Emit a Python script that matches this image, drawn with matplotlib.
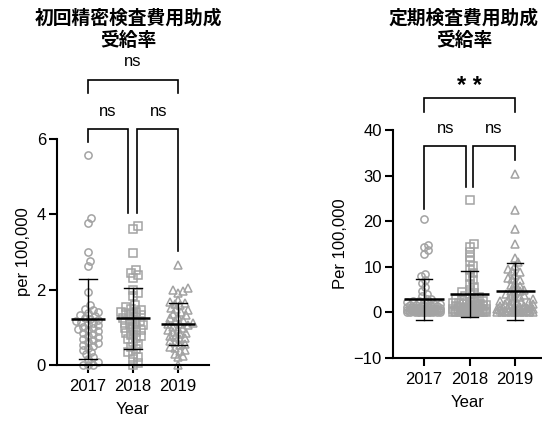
import numpy as np
import matplotlib
matplotlib.use("Agg")
import matplotlib.pyplot as plt

plt.rcParams['font.family'] = ['Liberation Sans', 'DejaVu Sans']

# ---- data -------------------------------------------------------------
years = ["2017", "2018", "2019"]

# 初回精密検査費用助成 受給率 (per 100,000)
initial_2017 = [5.57, 3.90, 3.78, 3.00, 2.75, 2.62, 1.94, 1.58, 1.50, 1.47, 1.42, 1.38,
                1.33, 1.30, 1.26, 1.22, 1.18, 1.15, 1.12, 1.10, 1.06, 1.02, 0.98, 0.95,
                0.90, 0.86, 0.82, 0.78, 0.74, 0.70, 0.66, 0.62, 0.58, 0.54, 0.50, 0.46,
                0.40, 0.35, 0.28, 0.22, 0.15, 0.08, 0.00, 0.00, 0.00, 1.20, 0.93]
initial_2018 = [3.68, 3.62, 2.97, 2.52, 2.45, 2.38, 2.32, 1.98, 1.90, 1.82, 1.60, 1.55,
                1.50, 1.46, 1.42, 1.38, 1.35, 1.32, 1.28, 1.25, 1.22, 1.18, 1.15, 1.12,
                1.08, 1.05, 1.02, 0.98, 0.95, 0.92, 0.88, 0.85, 0.80, 0.76, 0.72, 0.68,
                0.62, 0.55, 0.48, 0.42, 0.35, 0.30, 0.22, 0.15, 0.05, 0.00, 1.40]
initial_2019 = [2.65, 2.05, 2.00, 1.96, 1.92, 1.72, 1.68, 1.65, 1.62, 1.58, 1.52, 1.48,
                1.45, 1.40, 1.36, 1.32, 1.28, 1.25, 1.20, 1.16, 1.12, 1.08, 1.05, 1.02,
                0.98, 0.95, 0.92, 0.88, 0.85, 0.82, 0.78, 0.75, 0.72, 0.68, 0.64, 0.60,
                0.55, 0.52, 0.48, 0.44, 0.40, 0.36, 0.30, 0.25, 0.20, 0.00, 1.10]
initial_mean = [1.22, 1.24, 1.09]
initial_sd = [1.07, 0.81, 0.56]

# 定期検査費用助成 受給率 (per 100,000)
regular_2017 = [20.4, 14.8, 14.4, 13.6, 12.9, 8.5, 7.9, 7.2, 6.4, 5.6, 4.8, 4.1,
                3.5, 3.0, 2.6, 2.3, 2.0, 1.8, 1.6, 1.5, 1.4, 1.3, 1.2, 1.1,
                1.0, 0.9, 0.85, 0.8, 0.7, 0.65, 0.6, 0.55, 0.5, 0.45, 0.4, 0.35,
                0.3, 0.25, 0.2, 0.2, 0.15, 0.1, 0.1, 0.05, 0.0, 0.0, 0.0,
                2.9, 2.5, 2.2, 1.9, 1.7, 1.45, 1.25, 1.05, 0.95, 0.75, 0.6, 0.5,
                0.42, 0.33, 0.28, 0.22, 0.18, 0.12, 0.08, 0.05, 0.03, 0.0]
regular_2018 = [24.6, 15.0, 14.3, 13.2, 12.2, 11.2, 10.2, 9.4, 8.6, 7.8, 7.0, 6.2,
                5.6, 5.0, 4.5, 4.0, 3.6, 3.2, 2.9, 2.6, 2.3, 2.1, 1.9, 1.7,
                1.5, 1.35, 1.2, 1.05, 0.9, 0.8, 0.7, 0.6, 0.5, 0.45, 0.4, 0.35,
                0.3, 0.25, 0.2, 0.15, 0.1, 0.1, 0.05, 0.0, 0.0, 3.0, 2.0,
                4.2, 3.4, 2.8, 2.4, 2.2, 1.8, 1.6, 1.4, 1.1, 0.95, 0.75, 0.65,
                0.55, 0.42, 0.33, 0.22, 0.18, 0.12, 0.08, 0.03, 0.0]
regular_2019 = [30.3, 22.5, 18.3, 15.0, 12.0, 11.0, 10.2, 9.5, 8.8, 8.2, 7.6, 7.0,
                6.5, 6.0, 5.5, 5.0, 4.6, 4.2, 3.8, 3.5, 3.2, 2.9, 2.6, 2.4,
                2.2, 2.0, 1.8, 1.6, 1.4, 1.25, 1.1, 1.0, 0.9, 0.8, 0.7, 0.6,
                0.5, 0.4, 0.35, 0.3, 0.25, 0.2, 0.15, 0.1, 0.05, 0.0, 0.0,
                9.0, 7.3, 5.8, 4.8, 4.0, 3.3, 2.7, 2.3, 1.9, 1.5, 1.2, 0.95,
                0.75, 0.55, 0.45, 0.32, 0.22, 0.12, 0.08, 0.03, 0.0]
regular_mean = [2.85, 3.95, 4.6]
regular_sd = [4.55, 5.05, 6.3]

# ---- style ------------------------------------------------------------
POINT = "#a3a3a3"
markers = ["o", "s", "^"]
AXIS_LW = 1.5
TICK_FS = 12

W, H = 542, 423
fig = plt.figure(figsize=(W / 100, H / 100), dpi=100)


def px_axes(x0, y0, x1, y1):
    """Axes from pixel box (left, top, right, bottom)."""
    return fig.add_axes([x0 / W, 1 - y1 / H, (x1 - x0) / W, (y1 - y0) / H])


def style_axes(ax, yticks):
    for s in ("top", "right"):
        ax.spines[s].set_visible(False)
    for s in ("left", "bottom"):
        ax.spines[s].set_linewidth(AXIS_LW)
    ax.set_xticks(range(len(years)))
    ax.set_xticklabels(years)
    ax.set_yticks(yticks)
    ax.tick_params(axis="both", length=6, width=AXIS_LW, labelsize=TICK_FS,
                   direction="out", pad=2)
    ax.tick_params(axis="x", pad=4)


def swarm(ax, xc, values, diam, max_half):
    """Horizontal offsets (data units) so markers do not overlap."""
    vals = np.asarray(values, float)
    disp = ax.transData.transform(np.column_stack([np.full(len(vals), xc), vals]))
    ys = disp[:, 1]
    order = np.argsort(ys)
    step = diam / 3.0
    cands = [0.0]
    k = 1
    while k * step <= max_half:
        cands += [k * step, -k * step]
        k += 1
    placed = []
    offs = np.zeros(len(vals))
    for i in order:
        y = ys[i]
        chosen = None
        for c in cands:
            if all((c - px) ** 2 + (y - py) ** 2 >= diam ** 2 for px, py in placed):
                chosen = c
                break
        if chosen is None:
            chosen = max(cands, key=lambda c: min((c - px) ** 2 + (y - py) ** 2
                                                  for px, py in placed))
        placed.append((chosen, y))
        offs[i] = chosen
    x0 = ax.transData.transform((xc, 0))[0]
    x1 = ax.transData.transform((xc + 1, 0))[0]
    return xc + offs / (x1 - x0)


def draw_group(ax, groups, means, sds, diam, halfs, mean_hw, cap_hw):
    for i, vals in enumerate(groups):
        xs = swarm(ax, i, vals, diam, halfs[i])
        ax.plot(xs, vals, linestyle="none", marker=markers[i], ms=5.2,
                mfc="none", mec=POINT, mew=1.1, clip_on=False, zorder=2)
        m, s = means[i], sds[i]
        ax.plot([i - mean_hw, i + mean_hw], [m, m], color="black", lw=1.8,
                solid_capstyle="butt", zorder=4, clip_on=False)
        ax.plot([i, i], [m - s, m + s], color="black", lw=1.0, zorder=4, clip_on=False)
        for yv in (m - s, m + s):
            ax.plot([i - cap_hw, i + cap_hw], [yv, yv], color="black", lw=1.0,
                    zorder=4, clip_on=False)


def bracket(ax, x0, x1, ytop, yl, yr, label, ly, lx=None, fs=12, weight="normal"):
    ax.plot([x0, x0, x1, x1], [yl, ytop, ytop, yr], color="black", lw=1.2,
            clip_on=False, solid_joinstyle="miter")
    ax.text((x0 + x1) / 2 if lx is None else lx, ly, label, ha="center", va="center",
            fontsize=fs, fontweight=weight)


# ---- left panel -------------------------------------------------------
ax1 = px_axes(57, 139, 209, 365)
ax1.set_xlim(-0.69, 2.69)
ax1.set_ylim(0, 6)
style_axes(ax1, [0, 2, 4, 6])
draw_group(ax1, [initial_2017, initial_2018, initial_2019], initial_mean, initial_sd,
           diam=5.0, halfs=[12, 12, 17], mean_hw=0.38, cap_hw=0.2)
ax1.set_ylabel("per 100,000", fontsize=12, labelpad=4)
ax1.set_xlabel("Year", fontsize=12, labelpad=6)

bracket(ax1, 0, 2, 7.57, 7.22, 7.22, "ns", 8.05)
bracket(ax1, 0, 0.89, 6.27, 5.92, 4.03, "ns", 6.72, lx=0.44)
bracket(ax1, 1.09, 2, 6.27, 4.03, 3.03, "ns", 6.72, lx=1.56)

# ---- right panel ------------------------------------------------------
ax2 = px_axes(393, 130, 542, 358)
ax2.set_xlim(-0.68, 2.59)
ax2.set_ylim(-10, 40)
style_axes(ax2, [-10, 0, 10, 20, 30, 40])
draw_group(ax2, [regular_2017, regular_2018, regular_2019], regular_mean, regular_sd,
           diam=4.5, halfs=[17, 17, 18], mean_hw=0.43, cap_hw=0.18)
ax2.set_ylabel("Per 100,000", fontsize=12, labelpad=4)
ax2.set_xlabel("Year", fontsize=12, labelpad=6)

bracket(ax2, 0, 2, 47.0, 43.9, 43.9, "* *", 49.6, fs=17, weight="bold")
bracket(ax2, 0, 0.92, 36.5, 22.6, 27.4, "ns", 40.3, lx=0.48)
bracket(ax2, 1.08, 2, 36.5, 27.4, 33.4, "ns", 40.3, lx=1.54)

# ---- titles -----------------------------------------------------------
title_font = ["Noto Sans CJK JP", "DejaVu Sans"]
fig.text(128.5 / W, 1 - 29 / H, "初回精密検査費用助成\n受給率", ha="center", va="center",
         fontsize=13.5, fontweight="bold", family=title_font, linespacing=1.2)
fig.text(464 / W, 1 - 29 / H, "定期検査費用助成\n受給率", ha="center", va="center",
         fontsize=13.5, fontweight="bold", family=title_font, linespacing=1.2)

fig.savefig("out.png", dpi=100)
